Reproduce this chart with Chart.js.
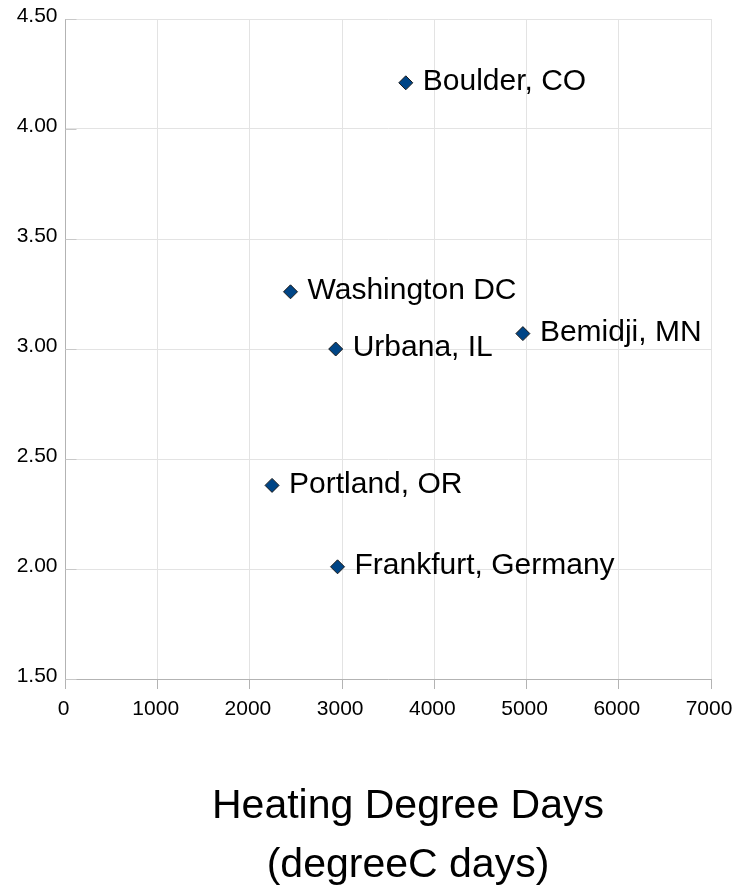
<!DOCTYPE html>
<html>
<head>
<meta charset="utf-8">
<script src="https://cdn.jsdelivr.net/npm/chart.js@4/dist/chart.umd.min.js"></script>
<style>
  html, body { margin: 0; padding: 0; background: #fff; }
  #wrap { width: 734px; height: 887px; position: relative; }
</style>
</head>
<body>
<div id="wrap"><canvas id="hddChart"></canvas></div>
<script>
// city names and values
const cities = ['Boulder, CO', 'Washington DC', 'Urbana, IL', 'Bemidji, MN', 'Portland, OR', 'Frankfurt, Germany'];
const heatingDegreeDays = [3690, 2440, 2930, 4960, 2240, 2950];
const yValues = [4.21, 3.26, 3.00, 3.07, 2.38, 2.01];
const xTitleLines = ['Heating Degree Days', '(degreeC days)'];

const FONT = '"Liberation Sans", Arial, sans-serif';

// text next to each marker
const pointLabels = {
    id: 'pointLabels',
    afterDatasetsDraw(chart) {
        const ctx = chart.ctx;
        const meta = chart.getDatasetMeta(0);
        ctx.save();
        ctx.font = '30px ' + FONT;
        ctx.fillStyle = '#000';
        ctx.textAlign = 'left';
        ctx.textBaseline = 'middle';
        meta.data.forEach((pt, i) => {
            ctx.fillText(cities[i], pt.x + 17, pt.y - 1);
        });
        ctx.restore();
    }
};

// short inner ticks on the y axis + the big x-axis title
const extras = {
    id: 'extras',
    afterDraw(chart) {
        const ctx = chart.ctx;
        const y = chart.scales.y;
        ctx.save();
        ctx.strokeStyle = '#c8c8c8';
        ctx.lineWidth = 1;
        y.ticks.forEach((t, i) => {
            const py = Math.round(y.getPixelForTick(i)) + 0.5;
            ctx.beginPath();
            ctx.moveTo(y.right, py);
            ctx.lineTo(y.right + 11, py);
            ctx.stroke();
        });
        ctx.font = '41px ' + FONT;
        ctx.fillStyle = '#000';
        ctx.textAlign = 'center';
        ctx.textBaseline = 'alphabetic';
        ctx.fillText(xTitleLines[0], 408, 818);
        ctx.fillText(xTitleLines[1], 408, 877);
        ctx.restore();
    }
};

new Chart(document.getElementById('hddChart'), {
    type: 'scatter',
    data: {
        datasets: [{
            data: heatingDegreeDays.map((x, i) => ({ x: x, y: yValues[i] })),
            pointStyle: 'rectRot',
            pointRadius: 7,
            pointHoverRadius: 7,
            backgroundColor: '#004586',
            borderColor: '#1a1a1a',
            borderWidth: 1
        }]
    },
    options: {
        responsive: true,
        maintainAspectRatio: false,
        animation: false,
        layout: { padding: { top: 19, right: 23, left: 0, bottom: 0 } },
        plugins: { legend: { display: false }, tooltip: { enabled: false } },
        scales: {
            x: {
                type: 'linear',
                min: 0,
                max: 7000,
                ticks: {
                    stepSize: 1000,
                    color: '#000',
                    font: { size: 21, family: FONT },
                    padding: 8,
                    labelOffset: -2,
                    maxRotation: 0,
                    callback: v => String(v)
                },
                grid: { color: '#e3e3e3', tickColor: '#b3b3b3', tickLength: 10 },
                border: { color: '#b3b3b3' },
                afterFit(scale) {
                    scale.height = 208;
                    scale.paddingLeft = 0;
                    scale.paddingRight = 0;
                }
            },
            y: {
                min: 1.5,
                max: 4.5,
                ticks: {
                    stepSize: 0.5,
                    color: '#000',
                    font: { size: 21, family: FONT },
                    padding: 8,
                    labelOffset: -3,
                    callback: v => Number(v).toFixed(2)
                },
                grid: { color: '#e3e3e3', tickLength: 0 },
                border: { color: '#b3b3b3' },
                afterFit(scale) {
                    scale.width = 65.5;
                    scale.paddingTop = 0;
                    scale.paddingBottom = 0;
                }
            }
        }
    },
    plugins: [pointLabels, extras]
});
</script>
</body>
</html>
